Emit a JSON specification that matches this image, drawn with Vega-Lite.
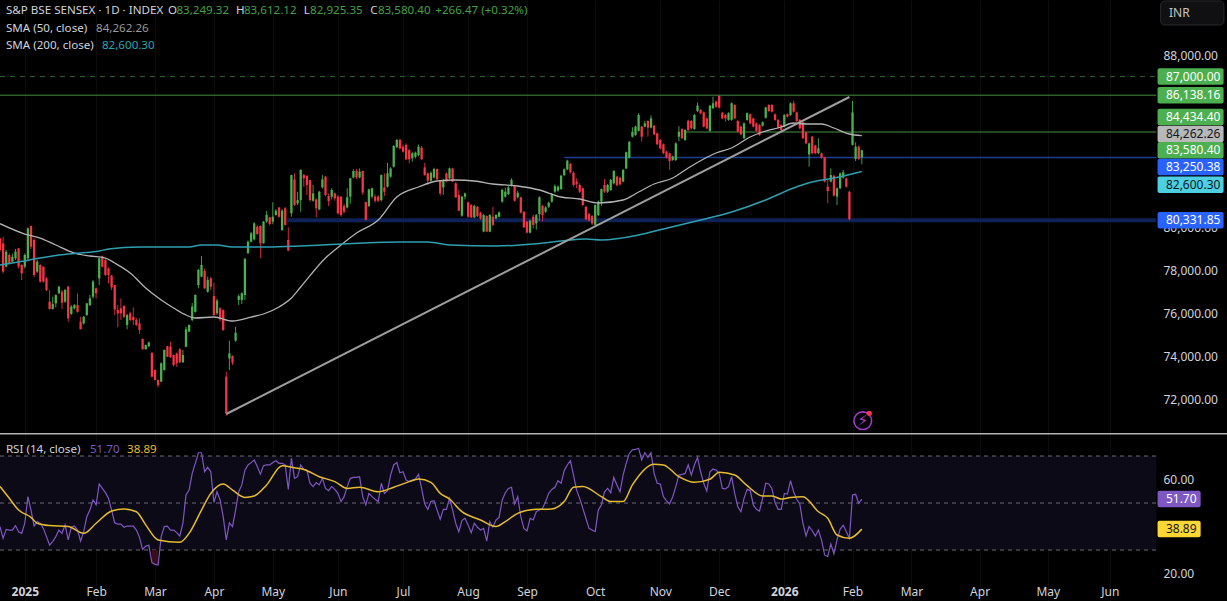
{
"$schema":"https://vega.github.io/schema/vega-lite/v6.json",
"background":"#000000",
"padding":0,
"spacing":0,
"autosize":{"type":"pad"},
"config":{"view":{"stroke":null},"font":"Noto Sans","text":{"font":"Noto Sans","fontSize":12},"axis":{"labelFont":"Noto Sans","labelFontSize":12,"labelColor":"#d1d4dc","title":null}},
"datasets":{
"bars":[
{"i":0,"o":79497,"h":79497,"l":78880,"c":78956,"rsi":39.9},
{"i":1,"o":79265,"h":79574,"l":77874,"c":77951,"rsi":35.0},
{"i":2,"o":78183,"h":78956,"l":78150,"c":78878,"rsi":38.8},
{"i":3,"o":78724,"h":78800,"l":78290,"c":78337,"rsi":38.5},
{"i":4,"o":78415,"h":78780,"l":78370,"c":78647,"rsi":38.5},
{"i":5,"o":78569,"h":79000,"l":78500,"c":78878,"rsi":40.4},
{"i":6,"o":79033,"h":79050,"l":78100,"c":78183,"rsi":37.8},
{"i":7,"o":78260,"h":78300,"l":77560,"c":77874,"rsi":37.1},
{"i":8,"o":78183,"h":78800,"l":78100,"c":78724,"rsi":41.4},
{"i":9,"o":78569,"h":80000,"l":78500,"c":79961,"rsi":52.7},
{"i":10,"o":80069,"h":80090,"l":79000,"c":79110,"rsi":47.0},
{"i":11,"o":79420,"h":79500,"l":77700,"c":77796,"rsi":40.2},
{"i":12,"o":77950,"h":78500,"l":77900,"c":78415,"rsi":42.1},
{"i":13,"o":78260,"h":78300,"l":77450,"c":77487,"rsi":41.4},
{"i":14,"o":78183,"h":78200,"l":77450,"c":77487,"rsi":39.2},
{"i":15,"o":77640,"h":77700,"l":77050,"c":77100,"rsi":35.7},
{"i":16,"o":76560,"h":77100,"l":76200,"c":76220,"rsi":32.1},
{"i":17,"o":76220,"h":76790,"l":76200,"c":76450,"rsi":33.6},
{"i":18,"o":76480,"h":76900,"l":76300,"c":76870,"rsi":35.7},
{"i":19,"o":76950,"h":77300,"l":76900,"c":77255,"rsi":38.5},
{"i":20,"o":77020,"h":77100,"l":76220,"c":76510,"rsi":37.1},
{"i":21,"o":76560,"h":77150,"l":76500,"c":77100,"rsi":40.7},
{"i":22,"o":77255,"h":77300,"l":75630,"c":75790,"rsi":34.3},
{"i":23,"o":75990,"h":76400,"l":75950,"c":76330,"rsi":39.7},
{"i":24,"o":76250,"h":76450,"l":76200,"c":76400,"rsi":40.2},
{"i":25,"o":76400,"h":76940,"l":76050,"c":76090,"rsi":38.5},
{"i":26,"o":75630,"h":75860,"l":75280,"c":75280,"rsi":33.8},
{"i":27,"o":75550,"h":75900,"l":75500,"c":75860,"rsi":37.8},
{"i":28,"o":75940,"h":76500,"l":75900,"c":76480,"rsi":44.2},
{"i":29,"o":76400,"h":76870,"l":76350,"c":76710,"rsi":47.0},
{"i":30,"o":76790,"h":77560,"l":76700,"c":77490,"rsi":51.3},
{"i":31,"o":77180,"h":77220,"l":76710,"c":76950,"rsi":49.2},
{"i":32,"o":77640,"h":78600,"l":77330,"c":78570,"rsi":58.1},
{"i":33,"o":78650,"h":78700,"l":78150,"c":78180,"rsi":56.2},
{"i":34,"o":78490,"h":78530,"l":77750,"c":77800,"rsi":54.4},
{"i":35,"o":78100,"h":78150,"l":77410,"c":77800,"rsi":52.0},
{"i":36,"o":77770,"h":77800,"l":77100,"c":77220,"rsi":47.0},
{"i":37,"o":77330,"h":77340,"l":75940,"c":76200,"rsi":41.6},
{"i":38,"o":76170,"h":76400,"l":75370,"c":76020,"rsi":41.0},
{"i":39,"o":76250,"h":76710,"l":75710,"c":76020,"rsi":41.0},
{"i":40,"o":76360,"h":76400,"l":75800,"c":75860,"rsi":39.7},
{"i":41,"o":75480,"h":76000,"l":75280,"c":75940,"rsi":40.2},
{"i":42,"o":76020,"h":76100,"l":75650,"c":75710,"rsi":40.2},
{"i":43,"o":75860,"h":76300,"l":75480,"c":75710,"rsi":40.2},
{"i":44,"o":75710,"h":75800,"l":75430,"c":75480,"rsi":38.5},
{"i":45,"o":75550,"h":75790,"l":75060,"c":75240,"rsi":35.4},
{"i":46,"o":74830,"h":74860,"l":74340,"c":74350,"rsi":30.3},
{"i":47,"o":74350,"h":74570,"l":74340,"c":74550,"rsi":31.7},
{"i":48,"o":74500,"h":74700,"l":74450,"c":74670,"rsi":32.0},
{"i":49,"o":74190,"h":74200,"l":73050,"c":73080,"rsi":24.6},
{"i":50,"o":73390,"h":73420,"l":72900,"c":72930,"rsi":23.9},
{"i":51,"o":72930,"h":72950,"l":72590,"c":72690,"rsi":23.6},
{"i":52,"o":72850,"h":73750,"l":72820,"c":73700,"rsi":35.7},
{"i":53,"o":73390,"h":74340,"l":73360,"c":74320,"rsi":40.0},
{"i":54,"o":74500,"h":74500,"l":73990,"c":74010,"rsi":40.2},
{"i":55,"o":74470,"h":74700,"l":73950,"c":73980,"rsi":38.5},
{"i":56,"o":74090,"h":74100,"l":73550,"c":73620,"rsi":38.5},
{"i":57,"o":74160,"h":74200,"l":73540,"c":73700,"rsi":37.4},
{"i":58,"o":74350,"h":74400,"l":73720,"c":73750,"rsi":36.0},
{"i":59,"o":73750,"h":74320,"l":73720,"c":74090,"rsi":41.4},
{"i":60,"o":74470,"h":75400,"l":74450,"c":75280,"rsi":53.4},
{"i":61,"o":75170,"h":75500,"l":75150,"c":75480,"rsi":55.5},
{"i":62,"o":75710,"h":76500,"l":75650,"c":76330,"rsi":62.6},
{"i":63,"o":76090,"h":76900,"l":76050,"c":76870,"rsi":66.9},
{"i":64,"o":77330,"h":78080,"l":77180,"c":78030,"rsi":71.4},
{"i":65,"o":77720,"h":78680,"l":77700,"c":78260,"rsi":71.4},
{"i":66,"o":77990,"h":78100,"l":77150,"c":77180,"rsi":63.3},
{"i":67,"o":77020,"h":77720,"l":76980,"c":77560,"rsi":65.2},
{"i":68,"o":77640,"h":77700,"l":77100,"c":77250,"rsi":63.3},
{"i":69,"o":76820,"h":77440,"l":75900,"c":75940,"rsi":50.2},
{"i":70,"o":76020,"h":76700,"l":75950,"c":76610,"rsi":54.8},
{"i":71,"o":76250,"h":76300,"l":75650,"c":75740,"rsi":51.3},
{"i":72,"o":76170,"h":76200,"l":75200,"c":75250,"rsi":44.2},
{"i":73,"o":73080,"h":73310,"l":71270,"c":71380,"rsi":34.3},
{"i":74,"o":73930,"h":74750,"l":73390,"c":74160,"rsi":41.6},
{"i":75,"o":74040,"h":74070,"l":73620,"c":73730,"rsi":40.0},
{"i":76,"o":74750,"h":75400,"l":74700,"c":75120,"rsi":47.0},
{"i":77,"o":76640,"h":76900,"l":76400,"c":76820,"rsi":54.8},
{"i":78,"o":76640,"h":77000,"l":76450,"c":76950,"rsi":57.7},
{"i":79,"o":76870,"h":78600,"l":76640,"c":78540,"rsi":64.0},
{"i":80,"o":78800,"h":79400,"l":78800,"c":79340,"rsi":66.2},
{"i":81,"o":79340,"h":79800,"l":79300,"c":79730,"rsi":67.2},
{"i":82,"o":79450,"h":80250,"l":79400,"c":80190,"rsi":68.3},
{"i":83,"o":80040,"h":80100,"l":79650,"c":79700,"rsi":65.5},
{"i":84,"o":80070,"h":80100,"l":78570,"c":79270,"rsi":62.3},
{"i":85,"o":79270,"h":80300,"l":79250,"c":80270,"rsi":65.9},
{"i":86,"o":80270,"h":80770,"l":80220,"c":80580,"rsi":66.2},
{"i":87,"o":80470,"h":80500,"l":80100,"c":80160,"rsi":66.2},
{"i":88,"o":80270,"h":81170,"l":80150,"c":80500,"rsi":67.2},
{"i":89,"o":80580,"h":80850,"l":80550,"c":80780,"rsi":68.0},
{"i":90,"o":80930,"h":80950,"l":80450,"c":80500,"rsi":66.9},
{"i":91,"o":79880,"h":80850,"l":79850,"c":80780,"rsi":66.9},
{"i":92,"o":80890,"h":80950,"l":80100,"c":80120,"rsi":66.2},
{"i":93,"o":79420,"h":80010,"l":78900,"c":78930,"rsi":55.8},
{"i":94,"o":80660,"h":82450,"l":80500,"c":82430,"rsi":69.0},
{"i":95,"o":82230,"h":82510,"l":81000,"c":81040,"rsi":60.5},
{"i":96,"o":81120,"h":81660,"l":81040,"c":81270,"rsi":61.2},
{"i":97,"o":81270,"h":82700,"l":80730,"c":82670,"rsi":66.2},
{"i":98,"o":82430,"h":82480,"l":81890,"c":82280,"rsi":64.3},
{"i":99,"o":82390,"h":82430,"l":81510,"c":81970,"rsi":64.0},
{"i":100,"o":82200,"h":82200,"l":81200,"c":81270,"rsi":58.4},
{"i":101,"o":81240,"h":81970,"l":81200,"c":81580,"rsi":57.0},
{"i":102,"o":81300,"h":81350,"l":80470,"c":80890,"rsi":58.7},
{"i":103,"o":80840,"h":81700,"l":80800,"c":81660,"rsi":57.7},
{"i":104,"o":81860,"h":82430,"l":81800,"c":82230,"rsi":60.5},
{"i":105,"o":82360,"h":82400,"l":81450,"c":81510,"rsi":56.2},
{"i":106,"o":81460,"h":81580,"l":81000,"c":81230,"rsi":55.3},
{"i":107,"o":81430,"h":81820,"l":81300,"c":81740,"rsi":57.0},
{"i":108,"o":81580,"h":81620,"l":81250,"c":81350,"rsi":55.8},
{"i":109,"o":81430,"h":81500,"l":80600,"c":80660,"rsi":54.1},
{"i":110,"o":81430,"h":81450,"l":80500,"c":80580,"rsi":50.6},
{"i":111,"o":81000,"h":81100,"l":80650,"c":80730,"rsi":52.7},
{"i":112,"o":80930,"h":81820,"l":80880,"c":81400,"rsi":57.0},
{"i":113,"o":81430,"h":82300,"l":81100,"c":82280,"rsi":60.5},
{"i":114,"o":82320,"h":82700,"l":82280,"c":82620,"rsi":60.9},
{"i":115,"o":82620,"h":82700,"l":82250,"c":82320,"rsi":60.9},
{"i":116,"o":82320,"h":82740,"l":82280,"c":82590,"rsi":61.2},
{"i":117,"o":82620,"h":82640,"l":81510,"c":81620,"rsi":52.7},
{"i":118,"o":81180,"h":81200,"l":80330,"c":80350,"rsi":49.2},
{"i":119,"o":81000,"h":81800,"l":80950,"c":81770,"rsi":54.1},
{"i":120,"o":81430,"h":81850,"l":81350,"c":81820,"rsi":52.7},
{"i":121,"o":81430,"h":81530,"l":81150,"c":81240,"rsi":51.6},
{"i":122,"o":81430,"h":81500,"l":81180,"c":81240,"rsi":50.6},
{"i":123,"o":81270,"h":82460,"l":81200,"c":82430,"rsi":58.4},
{"i":124,"o":81860,"h":82510,"l":81460,"c":81660,"rsi":54.1},
{"i":125,"o":81890,"h":83000,"l":81850,"c":82510,"rsi":55.3},
{"i":126,"o":82360,"h":82800,"l":82300,"c":82740,"rsi":61.9},
{"i":127,"o":82820,"h":83820,"l":82780,"c":83780,"rsi":66.2},
{"i":128,"o":83720,"h":84100,"l":83700,"c":84060,"rsi":67.2},
{"i":129,"o":84060,"h":84120,"l":83620,"c":83670,"rsi":62.9},
{"i":130,"o":83750,"h":83830,"l":83480,"c":83520,"rsi":63.3},
{"i":131,"o":83830,"h":83900,"l":83130,"c":83160,"rsi":59.8},
{"i":132,"o":83590,"h":83650,"l":82980,"c":83160,"rsi":59.1},
{"i":133,"o":83210,"h":83500,"l":83050,"c":83440,"rsi":59.8},
{"i":134,"o":83280,"h":83520,"l":83200,"c":83470,"rsi":60.2},
{"i":135,"o":83360,"h":83850,"l":83300,"c":83750,"rsi":62.2},
{"i":136,"o":83700,"h":83780,"l":83130,"c":83160,"rsi":56.2},
{"i":137,"o":82790,"h":83000,"l":82400,"c":82430,"rsi":49.6},
{"i":138,"o":82510,"h":82550,"l":81970,"c":82170,"rsi":47.3},
{"i":139,"o":82170,"h":82600,"l":82100,"c":82540,"rsi":50.6},
{"i":140,"o":82320,"h":82770,"l":82280,"c":82710,"rsi":51.0},
{"i":141,"o":82710,"h":82740,"l":82200,"c":82230,"rsi":47.0},
{"i":142,"o":82170,"h":82200,"l":81480,"c":81580,"rsi":43.1},
{"i":143,"o":81860,"h":82250,"l":81510,"c":82200,"rsi":47.3},
{"i":144,"o":82510,"h":82550,"l":82100,"c":82130,"rsi":47.3},
{"i":145,"o":82280,"h":82780,"l":82230,"c":82740,"rsi":52.0},
{"i":146,"o":82740,"h":82770,"l":82100,"c":82130,"rsi":47.0},
{"i":147,"o":82050,"h":82100,"l":81380,"c":81400,"rsi":41.4},
{"i":148,"o":81510,"h":81740,"l":80750,"c":80780,"rsi":37.8},
{"i":149,"o":80550,"h":81470,"l":80500,"c":81430,"rsi":42.5},
{"i":150,"o":81430,"h":81620,"l":81300,"c":81580,"rsi":43.5},
{"i":151,"o":81170,"h":81200,"l":80450,"c":80500,"rsi":40.7},
{"i":152,"o":81040,"h":81100,"l":80440,"c":80470,"rsi":37.4},
{"i":153,"o":80470,"h":81050,"l":80430,"c":81000,"rsi":41.4},
{"i":154,"o":80960,"h":81000,"l":80480,"c":80530,"rsi":39.7},
{"i":155,"o":80690,"h":80730,"l":80350,"c":80420,"rsi":38.5},
{"i":156,"o":79810,"h":80620,"l":79780,"c":80580,"rsi":39.2},
{"i":157,"o":80530,"h":80560,"l":79780,"c":79810,"rsi":33.8},
{"i":158,"o":79810,"h":80620,"l":79780,"c":80580,"rsi":42.1},
{"i":159,"o":80500,"h":80960,"l":80050,"c":80120,"rsi":39.7},
{"i":160,"o":80420,"h":80620,"l":80380,"c":80580,"rsi":42.8},
{"i":161,"o":80500,"h":80750,"l":80480,"c":80700,"rsi":43.9},
{"i":162,"o":81200,"h":81800,"l":81150,"c":81740,"rsi":51.3},
{"i":163,"o":81430,"h":81850,"l":81380,"c":81660,"rsi":54.4},
{"i":164,"o":81550,"h":81920,"l":81500,"c":81860,"rsi":56.2},
{"i":165,"o":81970,"h":82280,"l":81900,"c":82200,"rsi":56.7},
{"i":166,"o":81920,"h":81970,"l":81200,"c":81240,"rsi":49.6},
{"i":167,"o":81400,"h":81700,"l":81350,"c":81610,"rsi":52.7},
{"i":168,"o":81400,"h":81430,"l":80650,"c":80690,"rsi":44.2},
{"i":169,"o":80730,"h":80760,"l":79980,"c":80010,"rsi":39.2},
{"i":170,"o":80270,"h":80300,"l":79730,"c":79760,"rsi":38.1},
{"i":171,"o":79760,"h":80360,"l":79730,"c":80320,"rsi":43.5},
{"i":172,"o":80500,"h":80600,"l":79950,"c":80120,"rsi":42.8},
{"i":173,"o":80190,"h":80620,"l":79900,"c":80580,"rsi":46.3},
{"i":174,"o":80620,"h":81450,"l":80300,"c":81400,"rsi":47.0},
{"i":175,"o":81000,"h":81050,"l":80270,"c":80580,"rsi":47.7},
{"i":176,"o":80730,"h":81000,"l":80680,"c":80930,"rsi":50.6},
{"i":177,"o":80970,"h":81200,"l":80900,"c":81150,"rsi":54.1},
{"i":178,"o":81200,"h":81600,"l":81150,"c":81550,"rsi":55.8},
{"i":179,"o":81660,"h":82000,"l":81600,"c":81920,"rsi":56.7},
{"i":180,"o":81710,"h":81950,"l":81660,"c":81890,"rsi":59.5},
{"i":181,"o":81780,"h":82450,"l":81750,"c":82400,"rsi":58.4},
{"i":182,"o":82430,"h":82740,"l":82380,"c":82700,"rsi":63.8},
{"i":183,"o":82700,"h":83140,"l":82650,"c":83100,"rsi":66.2},
{"i":184,"o":82950,"h":83000,"l":82500,"c":82560,"rsi":68.0},
{"i":185,"o":82540,"h":82600,"l":81900,"c":81970,"rsi":61.9},
{"i":186,"o":82130,"h":82280,"l":81820,"c":82020,"rsi":55.5},
{"i":187,"o":81970,"h":82050,"l":81600,"c":81660,"rsi":52.0},
{"i":188,"o":81820,"h":81860,"l":81000,"c":81040,"rsi":47.7},
{"i":189,"o":80960,"h":81000,"l":80330,"c":80380,"rsi":43.5},
{"i":190,"o":80620,"h":80680,"l":80280,"c":80320,"rsi":39.2},
{"i":191,"o":80530,"h":80580,"l":80120,"c":80190,"rsi":38.5},
{"i":192,"o":80120,"h":81070,"l":80080,"c":81040,"rsi":37.8},
{"i":193,"o":80580,"h":81250,"l":80530,"c":81200,"rsi":47.0},
{"i":194,"o":81200,"h":81800,"l":81000,"c":81780,"rsi":49.2},
{"i":195,"o":81970,"h":82250,"l":81600,"c":81660,"rsi":54.8},
{"i":196,"o":81660,"h":82020,"l":81600,"c":81970,"rsi":56.2},
{"i":197,"o":81740,"h":82250,"l":81700,"c":82200,"rsi":54.4},
{"i":198,"o":82050,"h":82660,"l":82000,"c":82620,"rsi":60.9},
{"i":199,"o":82360,"h":82400,"l":81900,"c":81970,"rsi":57.7},
{"i":200,"o":82310,"h":82350,"l":81950,"c":82000,"rsi":54.8},
{"i":201,"o":82130,"h":82700,"l":82100,"c":82670,"rsi":61.9},
{"i":202,"o":82740,"h":83520,"l":82700,"c":83490,"rsi":66.9},
{"i":203,"o":83240,"h":84000,"l":83200,"c":83980,"rsi":71.1},
{"i":204,"o":84210,"h":84650,"l":84170,"c":84440,"rsi":72.6},
{"i":205,"o":84290,"h":84720,"l":84250,"c":84680,"rsi":72.8},
{"i":206,"o":84480,"h":85300,"l":84450,"c":85220,"rsi":73.3},
{"i":207,"o":84680,"h":84720,"l":83980,"c":84210,"rsi":68.3},
{"i":208,"o":84680,"h":84950,"l":84650,"c":84830,"rsi":71.4},
{"i":209,"o":84940,"h":84980,"l":84210,"c":84630,"rsi":69.4},
{"i":210,"o":84630,"h":85200,"l":84600,"c":85060,"rsi":71.4},
{"i":211,"o":84720,"h":84760,"l":84280,"c":84320,"rsi":62.6},
{"i":212,"o":84370,"h":84400,"l":83820,"c":83860,"rsi":58.4},
{"i":213,"o":84060,"h":84100,"l":83620,"c":83670,"rsi":58.1},
{"i":214,"o":83860,"h":83900,"l":83400,"c":83440,"rsi":52.7},
{"i":215,"o":83520,"h":83560,"l":83200,"c":83240,"rsi":50.9},
{"i":216,"o":83440,"h":83480,"l":82670,"c":83080,"rsi":49.6},
{"i":217,"o":83130,"h":83330,"l":83090,"c":83290,"rsi":52.7},
{"i":218,"o":83130,"h":83950,"l":83080,"c":83900,"rsi":57.0},
{"i":219,"o":84210,"h":84700,"l":84000,"c":84440,"rsi":61.9},
{"i":220,"o":84570,"h":84600,"l":84100,"c":84140,"rsi":62.2},
{"i":221,"o":84060,"h":84560,"l":84020,"c":84520,"rsi":62.6},
{"i":222,"o":84950,"h":85000,"l":84480,"c":84520,"rsi":66.2},
{"i":223,"o":84940,"h":84980,"l":84550,"c":84600,"rsi":61.9},
{"i":224,"o":84570,"h":85260,"l":84530,"c":85220,"rsi":66.2},
{"i":225,"o":85400,"h":85800,"l":85350,"c":85650,"rsi":69.4},
{"i":226,"o":85450,"h":85500,"l":85250,"c":85300,"rsi":63.3},
{"i":227,"o":85340,"h":85380,"l":84640,"c":84680,"rsi":58.4},
{"i":228,"o":85060,"h":85100,"l":84560,"c":84600,"rsi":55.1},
{"i":229,"o":84480,"h":85680,"l":84440,"c":85650,"rsi":63.3},
{"i":230,"o":85530,"h":86070,"l":85500,"c":85760,"rsi":64.5},
{"i":231,"o":85840,"h":85880,"l":85550,"c":85600,"rsi":64.0},
{"i":232,"o":86110,"h":86150,"l":85520,"c":85560,"rsi":62.6},
{"i":233,"o":85320,"h":85360,"l":85020,"c":85060,"rsi":56.2},
{"i":234,"o":85220,"h":85260,"l":84910,"c":85060,"rsi":56.0},
{"i":235,"o":84990,"h":85340,"l":84950,"c":85300,"rsi":57.0},
{"i":236,"o":84990,"h":85800,"l":84950,"c":85760,"rsi":61.2},
{"i":237,"o":85680,"h":85720,"l":85020,"c":85060,"rsi":54.1},
{"i":238,"o":84940,"h":84980,"l":84400,"c":84440,"rsi":48.4},
{"i":239,"o":84680,"h":84720,"l":84280,"c":84320,"rsi":46.3},
{"i":240,"o":84140,"h":84870,"l":84100,"c":84830,"rsi":52.0},
{"i":241,"o":84990,"h":85340,"l":84950,"c":85300,"rsi":55.8},
{"i":242,"o":85250,"h":85290,"l":84790,"c":84830,"rsi":55.3},
{"i":243,"o":85060,"h":85100,"l":84640,"c":84680,"rsi":49.2},
{"i":244,"o":84830,"h":84870,"l":84440,"c":84480,"rsi":47.3},
{"i":245,"o":84750,"h":84790,"l":84250,"c":84290,"rsi":46.6},
{"i":246,"o":84720,"h":84920,"l":84680,"c":84880,"rsi":52.0},
{"i":247,"o":85090,"h":85600,"l":85050,"c":85560,"rsi":58.4},
{"i":248,"o":85680,"h":85720,"l":85360,"c":85400,"rsi":58.1},
{"i":249,"o":85680,"h":85720,"l":85330,"c":85370,"rsi":56.2},
{"i":250,"o":85250,"h":85290,"l":84950,"c":84990,"rsi":50.2},
{"i":251,"o":84990,"h":85030,"l":84590,"c":84630,"rsi":47.3},
{"i":252,"o":84750,"h":84790,"l":84480,"c":84520,"rsi":47.3},
{"i":253,"o":84680,"h":85260,"l":84640,"c":85220,"rsi":54.1},
{"i":254,"o":85250,"h":85290,"l":85100,"c":85140,"rsi":53.8},
{"i":255,"o":85220,"h":85800,"l":85180,"c":85760,"rsi":59.5},
{"i":256,"o":85760,"h":85880,"l":85330,"c":85370,"rsi":54.8},
{"i":257,"o":85340,"h":85380,"l":84900,"c":84940,"rsi":51.6},
{"i":258,"o":84990,"h":85030,"l":84560,"c":84600,"rsi":49.6},
{"i":259,"o":84880,"h":84920,"l":84100,"c":84140,"rsi":41.4},
{"i":260,"o":84410,"h":84450,"l":83860,"c":83900,"rsi":36.0},
{"i":261,"o":83390,"h":83940,"l":82820,"c":83900,"rsi":40.0},
{"i":262,"o":84210,"h":84250,"l":83400,"c":83440,"rsi":38.2},
{"i":263,"o":83800,"h":83840,"l":83400,"c":83440,"rsi":36.0},
{"i":264,"o":83440,"h":84140,"l":83400,"c":83670,"rsi":38.5},
{"i":265,"o":83440,"h":83480,"l":83200,"c":83240,"rsi":34.3},
{"i":266,"o":83240,"h":83280,"l":82090,"c":82130,"rsi":27.9},
{"i":267,"o":81890,"h":82200,"l":81120,"c":81690,"rsi":27.2},
{"i":268,"o":82130,"h":82740,"l":82090,"c":82430,"rsi":32.6},
{"i":269,"o":82400,"h":82440,"l":81440,"c":81480,"rsi":28.3},
{"i":270,"o":81430,"h":81860,"l":81040,"c":81820,"rsi":34.3},
{"i":271,"o":81820,"h":82550,"l":81780,"c":82510,"rsi":38.8},
{"i":272,"o":82310,"h":82670,"l":82270,"c":82560,"rsi":40.6},
{"i":273,"o":82280,"h":82320,"l":81850,"c":81890,"rsi":37.8},
{"i":274,"o":81660,"h":81700,"l":80340,"c":80380,"rsi":35.0},
{"i":275,"o":83830,"h":85870,"l":83800,"c":85340,"rsi":53.4},
{"i":276,"o":83180,"h":83950,"l":83080,"c":83750,"rsi":53.7},
{"i":277,"o":83750,"h":83800,"l":83130,"c":83180,"rsi":49.9},
{"i":278,"o":83249.32,"h":83612.12,"l":82925.35,"c":83580.4,"rsi":51.7}
],
"sma50":[{"i":0,"p":80176},{"i":8,"p":79698},{"i":13,"p":79512},{"i":18,"p":79188},{"i":24,"p":78817},{"i":29,"p":78678},{"i":34,"p":78585},{"i":37,"p":78353},{"i":42,"p":77889},{"i":47,"p":77193},{"i":52,"p":76637},{"i":56,"p":76266},{"i":60,"p":75941},{"i":63,"p":75802},{"i":69,"p":75848},{"i":75,"p":75663},{"i":81,"p":75848},{"i":85,"p":75988},{"i":90,"p":76313},{"i":94,"p":76730},{"i":97,"p":77240},{"i":105,"p":78585},{"i":110,"p":79188},{"i":115,"p":79745},{"i":122,"p":80347},{"i":128,"p":81414},{"i":135,"p":81878},{"i":141,"p":82156},{"i":147,"p":82202},{"i":153,"p":82156},{"i":159,"p":82017},{"i":167,"p":81924},{"i":174,"p":81739},{"i":181,"p":81414},{"i":187,"p":81321},{"i":193,"p":81136},{"i":201,"p":81275},{"i":206,"p":81646},{"i":211,"p":82017},{"i":217,"p":82295},{"i":222,"p":82759},{"i":227,"p":83177},{"i":231,"p":83455},{"i":236,"p":83687},{"i":242,"p":84197},{"i":246,"p":84429},{"i":252,"p":84661},{"i":256,"p":84846},{"i":260,"p":84800},{"i":265,"p":84800},{"i":269,"p":84614},{"i":274,"p":84336},{"i":278,"p":84262.26}],
"sma200":[{"i":0,"p":78260},{"i":6,"p":78400},{"i":13,"p":78585},{"i":19,"p":78724},{"i":26,"p":78817},{"i":32,"p":78910},{"i":35,"p":79002},{"i":45,"p":79095},{"i":54,"p":79095},{"i":61,"p":79095},{"i":65,"p":79188},{"i":70,"p":79188},{"i":75,"p":79095},{"i":86,"p":79095},{"i":97,"p":79142},{"i":110,"p":79234},{"i":117,"p":79281},{"i":129,"p":79327},{"i":138,"p":79327},{"i":145,"p":79188},{"i":160,"p":79142},{"i":172,"p":79234},{"i":181,"p":79374},{"i":189,"p":79466},{"i":194,"p":79420},{"i":206,"p":79652},{"i":214,"p":79930},{"i":226,"p":80347},{"i":236,"p":80718},{"i":247,"p":81275},{"i":256,"p":81832},{"i":262,"p":82109},{"i":269,"p":82295},{"i":278,"p":82600.3}],
"rsiMa":[{"i":0,"v":57.0},{"i":3,"v":52.0},{"i":6,"v":47.0},{"i":10,"v":43.9},{"i":12,"v":41.4},{"i":16,"v":40.4},{"i":22,"v":40.0},{"i":27,"v":37.1},{"i":31,"v":41.4},{"i":36,"v":46.6},{"i":40,"v":47.5},{"i":44,"v":46.3},{"i":47,"v":40.7},{"i":51,"v":34.3},{"i":58,"v":33.3},{"i":61,"v":37.1},{"i":65,"v":47.0},{"i":68,"v":54.1},{"i":72,"v":58.1},{"i":75,"v":55.5},{"i":79,"v":52.4},{"i":82,"v":53.0},{"i":86,"v":57.7},{"i":91,"v":65.9},{"i":95,"v":65.0},{"i":98,"v":64.3},{"i":103,"v":61.2},{"i":108,"v":59.1},{"i":112,"v":56.2},{"i":116,"v":56.7},{"i":122,"v":54.8},{"i":127,"v":56.7},{"i":132,"v":59.1},{"i":135,"v":60.2},{"i":139,"v":58.8},{"i":142,"v":54.1},{"i":145,"v":51.7},{"i":149,"v":46.3},{"i":155,"v":42.8},{"i":160,"v":40.0},{"i":163,"v":42.1},{"i":167,"v":45.6},{"i":173,"v":47.3},{"i":178,"v":47.5},{"i":182,"v":50.6},{"i":185,"v":56.7},{"i":188,"v":57.0},{"i":194,"v":52.7},{"i":197,"v":50.6},{"i":201,"v":50.6},{"i":204,"v":57.7},{"i":211,"v":66.5},{"i":214,"v":66.2},{"i":219,"v":61.2},{"i":224,"v":58.8},{"i":229,"v":60.1},{"i":232,"v":63.1},{"i":237,"v":61.9},{"i":241,"v":57.4},{"i":246,"v":53.0},{"i":249,"v":53.0},{"i":252,"v":51.7},{"i":255,"v":52.4},{"i":259,"v":52.7},{"i":264,"v":46.3},{"i":267,"v":43.5},{"i":270,"v":36.4},{"i":274,"v":35.0},{"i":278,"v":38.89}],
"priceBadges":[
{"label":"87,000.00","pos":87000,"kind":"level"},
{"label":"86,138.16","pos":86138,"kind":"level"},
{"label":"84,434.40","pos":85130,"kind":"level"},
{"label":"84,262.26","pos":84336,"kind":"sma50"},
{"label":"83,580.40","pos":83580,"kind":"level"},
{"label":"83,250.38","pos":82806,"kind":"support"},
{"label":"82,600.30","pos":81980,"kind":"sma200"},
{"label":"80,331.85","pos":80332,"kind":"support"}
],
"rsiBadges":[{"v":51.7,"label":"51.70","kind":"rsi"},{"v":38.89,"label":"38.89","kind":"ma"}],
"header":[
{"i":1.9,"p":90041,"text":"S&P BSE SENSEX · 1D · INDEX","kind":"label"},
{"i":54.2,"p":90041,"text":"O","kind":"label"},
{"i":56.9,"p":90041,"text":"83,249.32","kind":"up"},
{"i":76.1,"p":90041,"text":"H","kind":"label"},
{"i":78.7,"p":90041,"text":"83,612.12","kind":"up"},
{"i":98,"p":90041,"text":"L","kind":"label"},
{"i":100,"p":90041,"text":"82,925.35","kind":"up"},
{"i":119.4,"p":90041,"text":"C","kind":"label"},
{"i":121.9,"p":90041,"text":"83,580.40","kind":"up"},
{"i":140.4,"p":90041,"text":"+266.47 (+0.32%)","kind":"up"},
{"i":1.9,"p":89229,"text":"SMA (50, close)","kind":"label"},
{"i":31,"p":89229,"text":"84,262.26","kind":"sma50"},
{"i":1.9,"p":88440,"text":"SMA (200, close)","kind":"label"},
{"i":32.9,"p":88440,"text":"82,600.30","kind":"sma200"}
]
},
"vconcat":[
{
"width":1227,
"height":433,
"resolve":{"scale":{"color":"independent"}},
"layer":[
{
"encoding":{
"x":{"field":"i","type":"quantitative","scale":{"domain":[0,395.8],"nice":false,"zero":false,"padding":0},"axis":{"values":[8,31,50,69,88,109,130,151,170,192,213,232,253,275,294,316,338,358],"labels":false,"ticks":false,"domain":false,"grid":true,"gridColor":"#0c0c0f"}},
"y":{"field":"p","type":"quantitative","scale":{"domain":[70469,90551],"nice":false,"zero":false,"padding":0},"axis":{"orient":"right","offset":-64,"labelPadding":0,"domain":false,"ticks":false,"grid":false,"labelOverlap":false,"format":",.2f","values":[88000,80000,78000,76000,74000,72000]}}
},
"layer":[
{"data":{"values":[{"p":87000,"from":0,"to":373}]},"mark":{"type":"rule","color":"#2f5f2f","strokeWidth":1,"strokeDash":[5,5],"clip":true},"encoding":{"x":{"field":"from","type":"quantitative"},"x2":{"field":"to"}}},
{"data":{"values":[{"p":86138.16,"from":0,"to":373},{"p":84434.4,"from":221,"to":373}]},"mark":{"type":"rule","color":"#2f5f2f","strokeWidth":1.5,"clip":true},"encoding":{"x":{"field":"from","type":"quantitative"},"x2":{"field":"to"}}},
{"data":{"values":[{"p":83250.38,"from":182,"to":373}]},"mark":{"type":"rule","color":"#1c3f94","strokeWidth":1.5},"encoding":{"x":{"field":"from","type":"quantitative"},"x2":{"field":"to"}}},
{"data":{"values":[{"p":80331.85,"from":92.6,"to":373}]},"mark":{"type":"rule","color":"#0f2257","strokeWidth":4},"encoding":{"x":{"field":"from","type":"quantitative"},"x2":{"field":"to"}}},
{"data":{"name":"bars"},"mark":{"type":"rule","strokeWidth":1,"clip":true},"encoding":{"y":{"field":"l","type":"quantitative"},"y2":{"field":"h"},"color":{"condition":{"test":"datum.c>=datum.o","value":"#3f9c45"},"value":"#c92a3a"}}},
{"data":{"name":"bars"},"mark":{"type":"bar","size":2.3,"clip":true},"encoding":{"y":{"field":"o","type":"quantitative"},"y2":{"field":"c"},"color":{"condition":{"test":"datum.c>=datum.o","value":"#4caf50"},"value":"#f23645"}}},
{"data":{"name":"sma50"},"mark":{"type":"line","color":"#b2b2b2","strokeWidth":1.3,"interpolate":"monotone","clip":true}},
{"data":{"name":"sma200"},"mark":{"type":"line","color":"#2f9fb0","strokeWidth":1.5,"interpolate":"monotone","clip":true}},
{"data":{"values":[{"i":73,"p":71350},{"i":274,"p":86052}]},"mark":{"type":"line","color":"#9e9e9e","strokeWidth":2}},
{"data":{"name":"header"},"mark":{"type":"text","align":"left","baseline":"middle","fontSize":11.6},"encoding":{"text":{"field":"text"},"color":{"field":"kind","type":"nominal","legend":null,"scale":{"domain":["label","up","sma50","sma200"],"range":["#d1d4dc","#43a047","#9a9a9a","#2aa5b8"]}}}},
{"data":{"values":[{"i":278.3,"p":71039}]},"mark":{"type":"point","shape":"circle","size":314,"filled":false,"stroke":"#a03cc8","strokeWidth":1.6,"opacity":1}},
{"data":{"values":[{"i":278.3,"p":71039,"icon":"⚡"}]},"mark":{"type":"text","font":"DejaVu Sans","fontSize":16,"fontWeight":"bold","align":"center","baseline":"middle","color":"#a03cc8"},"encoding":{"text":{"field":"icon"}}},
{"data":{"values":[{"i":280.4,"p":71382}]},"mark":{"type":"point","shape":"circle","size":28,"filled":true,"fill":"#f23645","opacity":1}}
]
},
{"data":{"name":"priceBadges"},"mark":{"type":"bar","orient":"horizontal","size":16.5,"cornerRadius":2},"encoding":{"x":{"datum":373.4,"scale":{"domain":[0,395.8],"nice":false,"zero":false,"padding":0}},"x2":{"datum":394.7},"y":{"field":"pos","type":"quantitative","scale":{"domain":[70469,90551],"nice":false,"zero":false,"padding":0}},"color":{"field":"kind","type":"nominal","legend":null,"scale":{"domain":["level","sma50","support","sma200"],"range":["#4caf50","#b8b8b8","#2962ff","#4dd0e1"]}}}},
{"data":{"name":"priceBadges"},"mark":{"type":"text","align":"left","baseline":"middle"},"encoding":{"x":{"datum":376.1,"scale":{"domain":[0,395.8],"nice":false,"zero":false,"padding":0}},"y":{"field":"pos","type":"quantitative","scale":{"domain":[70469,90551],"nice":false,"zero":false,"padding":0}},"text":{"field":"label"},"color":{"condition":{"test":"datum.kind=='sma50'||datum.kind=='sma200'","value":"#131722"},"value":"#ffffff"}}},
{"data":{"values":[{"name":"INR"}]},"mark":{"type":"rect","fill":"#101012","stroke":"#2a2a2e","cornerRadius":4},"encoding":{"x":{"datum":374.4,"scale":{"domain":[0,395.8],"nice":false,"zero":false,"padding":0}},"x2":{"datum":394.8},"y":{"datum":90505,"scale":{"domain":[70469,90551],"nice":false,"zero":false,"padding":0}},"y2":{"datum":89391}}},
{"data":{"values":[{"name":"INR"}]},"mark":{"type":"text","align":"left","baseline":"middle","color":"#c4c4c4"},"encoding":{"x":{"datum":377.1,"scale":{"domain":[0,395.8],"nice":false,"zero":false,"padding":0}},"y":{"datum":89948,"scale":{"domain":[70469,90551],"nice":false,"zero":false,"padding":0}},"text":{"field":"name"}}}
]
},
{
"width":1227,
"height":168,
"resolve":{"scale":{"color":"independent"}},
"layer":[
{"data":{"values":[{"name":"RSI"}]},"mark":{"type":"rect","fill":"#0d0a17"},"encoding":{"x":{"datum":0,"scale":{"domain":[0,395.8],"nice":false,"zero":false,"padding":0}},"x2":{"datum":373},"y":{"datum":70,"scale":{"domain":[8.3,79.8],"nice":false,"zero":false,"padding":0}},"y2":{"datum":30}}},
{"data":{"values":[{"v":70},{"v":50},{"v":30}]},"mark":{"type":"rule","color":"#6b6b76","strokeWidth":1,"strokeDash":[4,4],"clip":true},"encoding":{"x":{"datum":0,"scale":{"domain":[0,395.8],"nice":false,"zero":false,"padding":0}},"x2":{"datum":373},"y":{"field":"v","type":"quantitative","scale":{"domain":[8.3,79.8],"nice":false,"zero":false,"padding":0}}}},
{
"encoding":{
"x":{"field":"i","type":"quantitative","scale":{"domain":[0,395.8],"nice":false,"zero":false,"padding":0},"axis":{"values":[8,31,50,69,88,109,130,151,170,192,213,232,253,275,294,316,338,358],"labelExpr":"{'8':'2025','31':'Feb','50':'Mar','69':'Apr','88':'May','109':'Jun','130':'Jul','151':'Aug','170':'Sep','192':'Oct','213':'Nov','232':'Dec','253':'2026','275':'Feb','294':'Mar','316':'Apr','338':'May','358':'Jun'}[datum.value+'']","labelFontWeight":{"condition":{"test":"datum.value==8||datum.value==253","value":"bold"},"value":"normal"},"labelFlush":false,"orient":"bottom","offset":-15,"labelPadding":0,"ticks":false,"domain":false,"grid":true,"gridColor":"#0c0c0f","labelOverlap":false}},
"y":{"field":"v","type":"quantitative","scale":{"domain":[8.3,79.8],"nice":false,"zero":false,"padding":0},"axis":{"orient":"right","offset":-64,"labelPadding":0,"domain":false,"ticks":false,"grid":false,"format":".2f","values":[60,20]}}
},
"layer":[
{"data":{"name":"bars"},"transform":[{"filter":"datum.i>=49&&datum.i<=51"}],"mark":{"type":"area","color":"#3a0d18"},"encoding":{"y":{"field":"rsi","type":"quantitative"},"y2":{"datum":30}}},
{"data":{"name":"bars"},"mark":{"type":"line","color":"#7e57c2","strokeWidth":1.2,"clip":true},"encoding":{"y":{"field":"rsi","type":"quantitative"}}},
{"data":{"name":"rsiMa"},"mark":{"type":"line","color":"#e5bd2b","strokeWidth":1.5,"interpolate":"monotone","clip":true}}
]
},
{"data":{"values":[{"name":"pane"}]},"mark":{"type":"rule","color":"#b3b3b3","strokeWidth":1.5,"clip":true},"encoding":{"x":{"datum":0,"scale":{"domain":[0,395.8],"nice":false,"zero":false,"padding":0}},"x2":{"datum":395.8},"y":{"datum":79.5,"scale":{"domain":[8.3,79.8],"nice":false,"zero":false,"padding":0}}}},
{"data":{"values":[{"text":"RSI (14, close)","i":1.9,"kind":"label"},{"text":"51.70","i":29,"kind":"rsi"},{"text":"38.89","i":41,"kind":"ma"}]},"mark":{"type":"text","align":"left","baseline":"middle","fontSize":11.6},"encoding":{"x":{"field":"i","type":"quantitative","scale":{"domain":[0,395.8],"nice":false,"zero":false,"padding":0}},"y":{"datum":72.55,"scale":{"domain":[8.3,79.8],"nice":false,"zero":false,"padding":0}},"text":{"field":"text"},"color":{"field":"kind","type":"nominal","legend":null,"scale":{"domain":["label","rsi","ma"],"range":["#d1d4dc","#7e57c2","#e5bd2b"]}}}},
{"data":{"name":"rsiBadges"},"mark":{"type":"bar","orient":"horizontal","size":16.5,"cornerRadius":2},"encoding":{"x":{"datum":373.4,"scale":{"domain":[0,395.8],"nice":false,"zero":false,"padding":0}},"x2":{"datum":387.3},"y":{"field":"v","type":"quantitative","scale":{"domain":[8.3,79.8],"nice":false,"zero":false,"padding":0}},"color":{"field":"kind","type":"nominal","legend":null,"scale":{"domain":["rsi","ma"],"range":["#7e57c2","#fdd835"]}}}},
{"data":{"name":"rsiBadges"},"mark":{"type":"text","align":"left","baseline":"middle"},"encoding":{"x":{"datum":376.1,"scale":{"domain":[0,395.8],"nice":false,"zero":false,"padding":0}},"y":{"field":"v","type":"quantitative","scale":{"domain":[8.3,79.8],"nice":false,"zero":false,"padding":0}},"text":{"field":"label"},"color":{"condition":{"test":"datum.kind=='ma'","value":"#131722"},"value":"#ffffff"}}}
]
}
]
}
